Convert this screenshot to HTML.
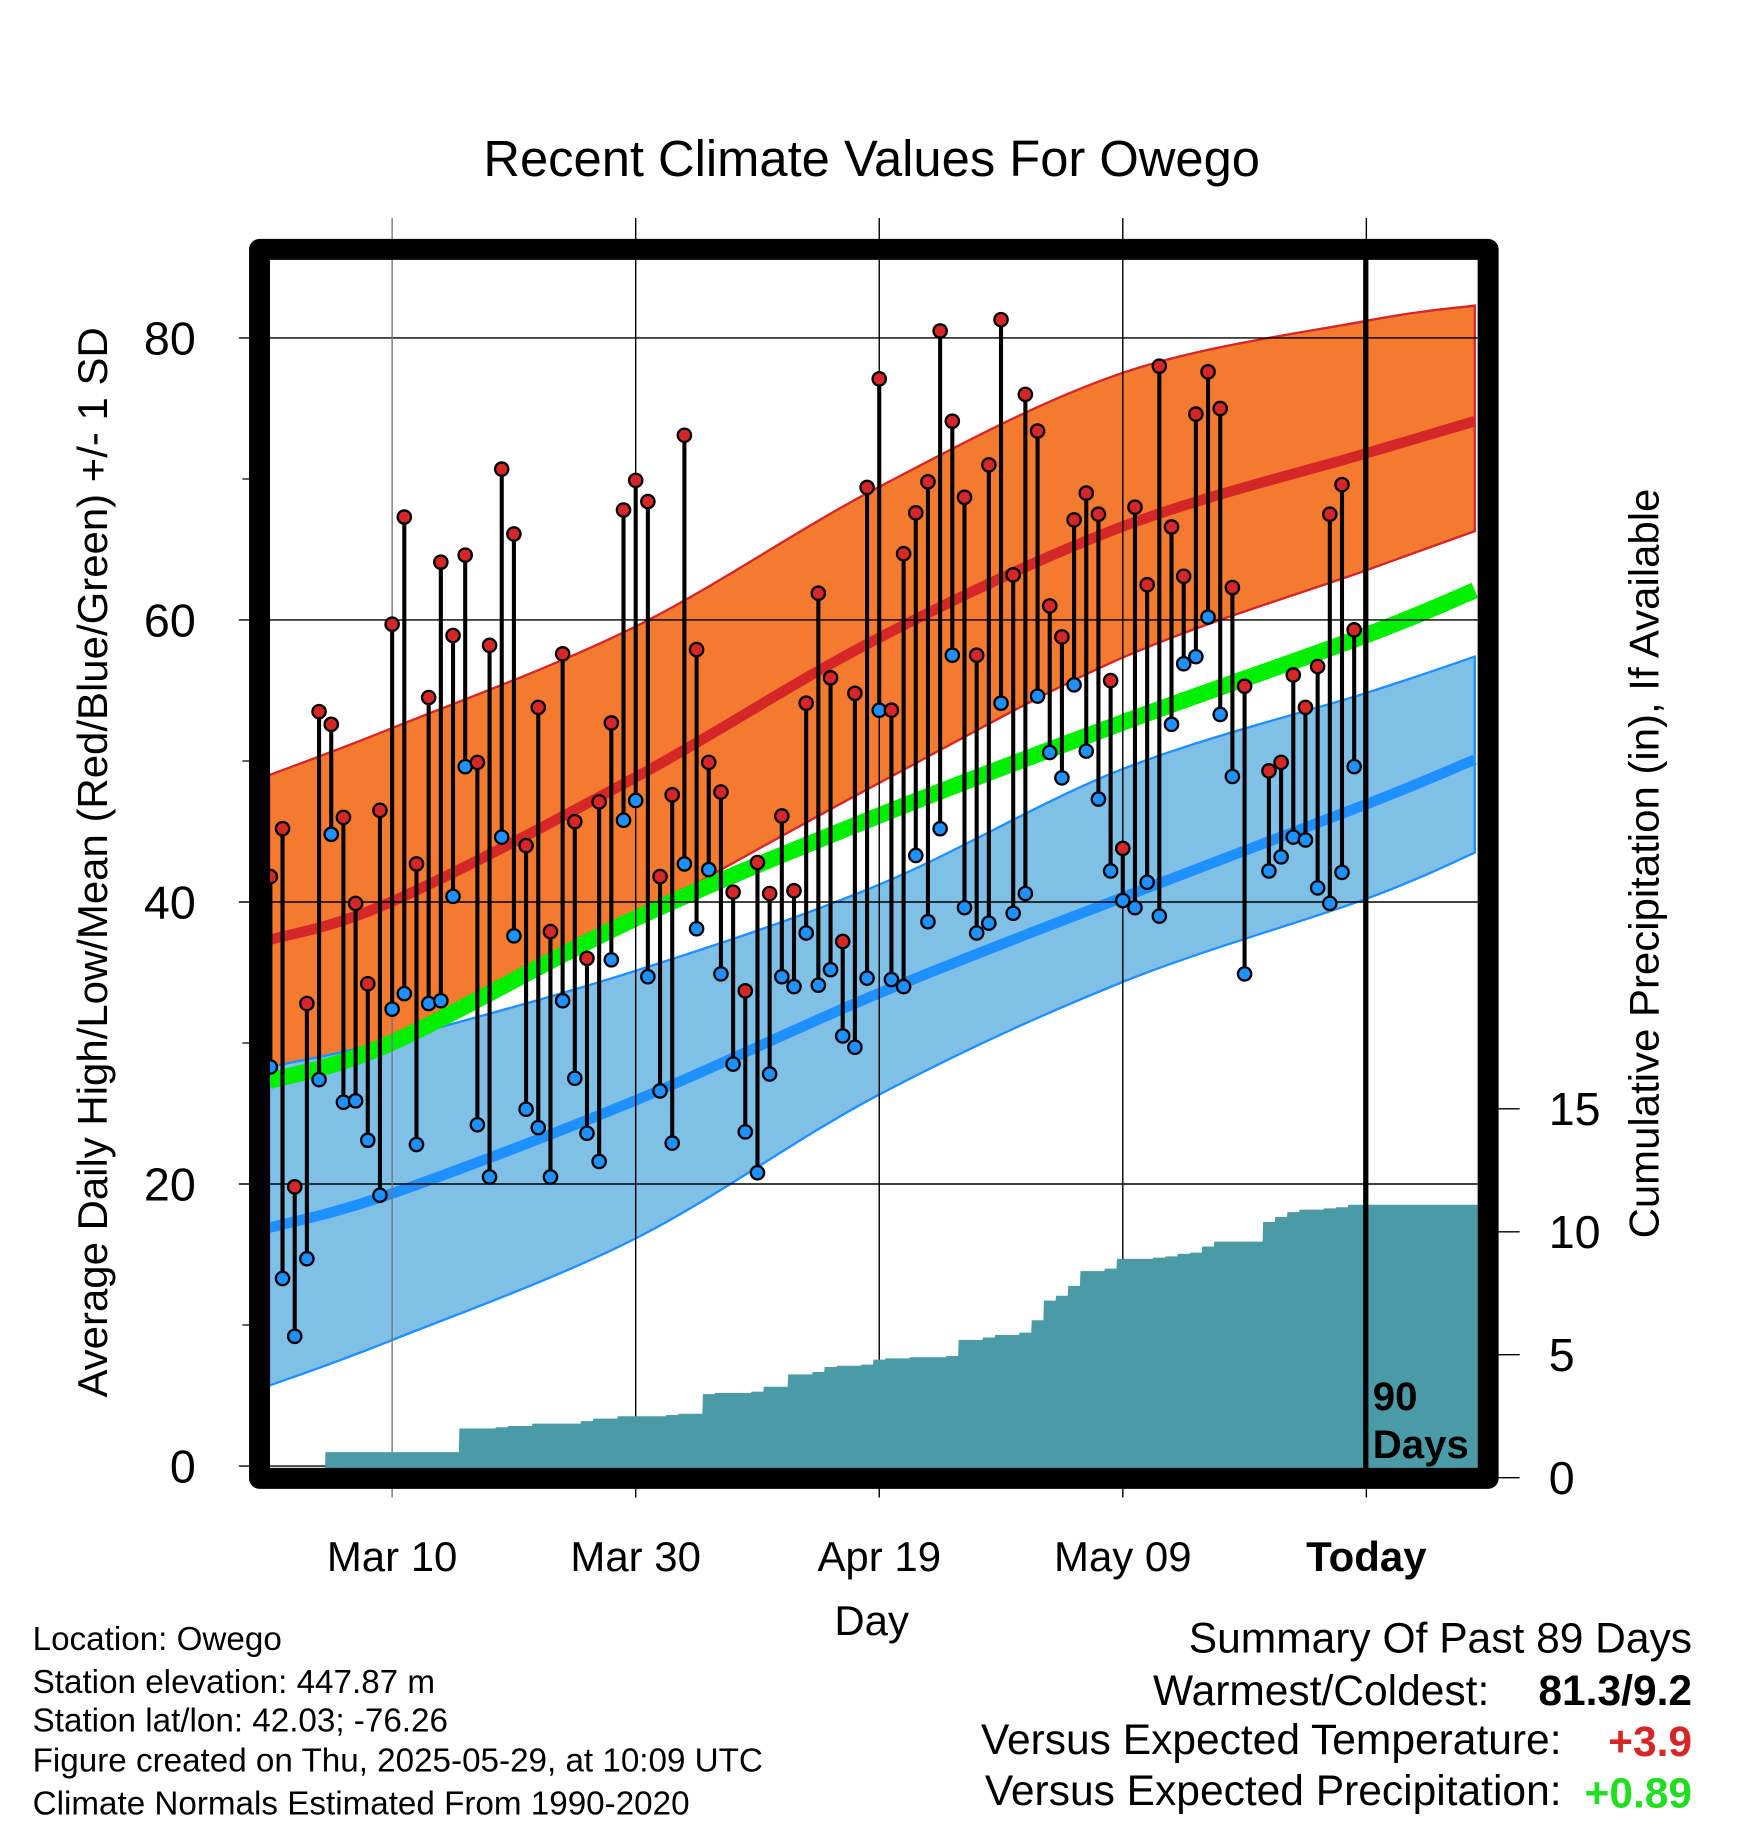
<!DOCTYPE html>
<html><head><meta charset="utf-8"><style>
html,body{margin:0;padding:0;background:#fff}
svg{display:block;font-family:"Liberation Sans",sans-serif}
</style></head><body>
<svg id="chart" width="1748" height="1828" viewBox="0 0 1500 1568.6" xmlns="http://www.w3.org/2000/svg">
<defs><clipPath id="plotclip"><rect x="231" y="223" width="1037" height="1037"/></clipPath></defs>
<text x="748" y="151" font-size="43.5" text-anchor="middle">Recent Climate Values For Owego</text>
<g id="bands" clip-path="url(#plotclip)"></g>
<g id="grid"></g>
<g id="precip" clip-path="url(#plotclip)"></g>
<g id="marks" clip-path="url(#plotclip)"></g>
<rect x="222.7" y="214" width="1054.3" height="1054.6" fill="none" stroke="#000" stroke-width="18" stroke-linejoin="round"/>
<line x1="1172" y1="214" x2="1172" y2="1268" stroke="#000" stroke-width="4.5"/>
<text x="1178" y="1210" font-size="34.5" font-weight="bold">90</text>
<text x="1178" y="1251" font-size="34.5" font-weight="bold">Days</text>
<g id="axes"></g>
<text transform="translate(92,740) rotate(-90)" font-size="36" text-anchor="middle">Average Daily High/Low/Mean (Red/Blue/Green) +/- 1 SD</text>
<text transform="translate(1423,741) rotate(-90)" font-size="36" text-anchor="middle">Cumulative Precipitation (in), If Available</text>
<text x="748" y="1403" font-size="36" text-anchor="middle">Day</text>
<g font-size="28.5">
<text x="28" y="1416">Location: Owego</text>
<text x="28" y="1453">Station elevation: 447.87 m</text>
<text x="28" y="1486">Station lat/lon: 42.03; -76.26</text>
<text x="28" y="1520">Figure created on Thu, 2025-05-29, at 10:09 UTC</text>
<text x="28" y="1557">Climate Normals Estimated From 1990-2020</text>
</g>
<g font-size="36.5" text-anchor="end">
<text x="1452" y="1418">Summary Of Past 89 Days</text>
<text x="1278" y="1463">Warmest/Coldest:</text>
<text x="1452" y="1463" font-weight="bold">81.3/9.2</text>
<text x="1340" y="1505">Versus Expected Temperature:</text>
<text x="1452" y="1507" font-weight="bold" fill="#d62728">+3.9</text>
<text x="1340" y="1549">Versus Expected Precipitation:</text>
<text x="1452" y="1551" font-weight="bold" fill="#22dd22">+0.89</text>
</g>
</svg>
<script>
const highs=[41.8,45.2,19.8,32.8,53.5,52.6,46,39.9,34.2,46.5,59.7,67.3,42.7,54.5,64.1,58.9,64.6,49.9,58.2,70.7,66.1,44,53.8,37.9,57.6,45.7,36,47.1,52.7,67.8,69.9,68.4,41.8,47.6,73.1,57.9,49.9,47.8,40.7,33.7,42.8,40.6,46.1,40.8,54.1,61.9,55.9,37.2,54.8,69.4,77.1,53.6,64.7,67.6,69.8,80.5,74.1,68.7,57.5,71,81.3,63.2,76,73.4,61,58.8,67.1,69,67.5,55.7,43.8,68,62.5,78,66.6,63.1,74.6,77.6,75,62.3,55.3,null,49.3,49.9,56.1,53.8,56.7,67.5,69.6,59.3];
const lows=[28.3,13.3,9.2,14.7,27.4,44.8,25.8,25.9,23.1,19.2,32.4,33.5,22.8,32.8,33,40.4,49.6,24.2,20.5,44.6,37.6,25.3,24,20.5,33,27.5,23.6,21.6,35.9,45.8,47.2,34.7,26.6,22.9,42.7,38.1,42.3,34.9,28.5,23.7,20.8,27.8,34.7,34,37.8,34.1,35.2,30.5,29.7,34.6,53.6,34.5,34,43.3,38.6,45.2,57.5,39.6,37.8,38.5,54.1,39.2,40.6,54.6,50.6,48.8,55.4,50.7,47.3,42.2,40.1,39.6,41.4,39,52.6,56.9,57.4,60.2,53.3,48.9,34.9,null,42.2,43.2,44.6,44.4,41,39.9,42.1,49.6];
const precipCum=[0,0,0,0,0,1.04,1.04,1.04,1.04,1.04,1.04,1.04,1.04,1.04,1.04,1.04,2.0,2.0,2.0,2.05,2.1,2.1,2.2,2.2,2.2,2.2,2.3,2.4,2.4,2.5,2.5,2.5,2.5,2.55,2.6,2.6,3.4,3.45,3.45,3.45,3.5,3.7,3.7,4.2,4.2,4.3,4.5,4.55,4.55,4.6,4.8,4.85,4.85,4.9,4.9,4.9,4.95,5.6,5.6,5.7,5.8,5.8,5.9,6.4,7.2,7.4,7.8,8.4,8.4,8.5,8.9,8.9,8.9,8.95,9.0,9.1,9.15,9.4,9.6,9.6,9.6,9.6,10.4,10.6,10.8,10.9,10.9,10.95,11.0,11.1];
const normDays=[0,10,30,50,70,90,99];
const highMean=[37.3,40.0,48.8,58.7,66.6,71.8,74.1];
const highUpper=[49.0,52.3,59.5,69.4,77.5,81.2,82.3];
const highLower=[26.5,29.5,38.9,48.4,57.3,63.5,66.3];
const lowMean=[16.9,19.3,25.9,33.5,40.3,46.9,50.1];
const lowUpper=[28.3,30.2,35.1,41.2,49.4,54.8,57.4];
const lowLower=[5.7,8.9,16.1,26.3,34.3,40.2,43.5];
const dailyMean=[27.3,30.0,38.8,46.1,52.7,58.9,62.1];
const tempTicks=[0,20,40,60,80];
const tempMinor=[10,30,50,70];
const precipTicks=[0,5,10,15];
const dateLabels=["Mar 10","Mar 30","Apr 19","May 09","Today"];
const dateDays=[10,30,50,70,90];

const NS="http://www.w3.org/2000/svg";
const xOf=d=>232+10.45*d;
const yT=v=>1258-12.1*v;
const yP=p=>1268-21.1*p;
function mk(tag,attrs,parent){const e=document.createElementNS(NS,tag);for(const k in attrs)e.setAttribute(k,attrs[k]);parent.appendChild(e);return e;}
function pts(vals){return normDays.map((d,i)=>[xOf(d)-1,yT(vals[i])]);}
function smooth(p){let s="M"+p[0][0]+","+p[0][1];for(let i=0;i<p.length-1;i++){const p0=p[i-1]||p[i],p1=p[i],p2=p[i+1],p3=p[i+2]||p2;const c1=[p1[0]+(p2[0]-p0[0])/6,p1[1]+(p2[1]-p0[1])/6],c2=[p2[0]-(p3[0]-p1[0])/6,p2[1]-(p3[1]-p1[1])/6];s+=" C"+c1+" "+c2+" "+p2;}return s;}
function band(up,lo){const a=pts(up),b=pts(lo).reverse();const rev=smooth(b).replace(/^M/,"L");return smooth(a)+" "+rev+" Z";}
const bands=document.getElementById('bands');
let e;
e=mk('path',{d:band(highUpper,highLower),fill:'#f47a30',stroke:'#d62728','stroke-width':2},bands);


e=mk('path',{d:band(lowUpper,lowLower),fill:'#80bfe6',stroke:'#1e90ff','stroke-width':2},bands);


e=mk('path',{d:smooth(pts(dailyMean)),fill:'none',stroke:'#00ee00','stroke-width':14},bands);


e=mk('path',{d:smooth(pts(highMean)),fill:'none',stroke:'#d62728','stroke-width':9},bands);


e=mk('path',{d:smooth(pts(lowMean)),fill:'none',stroke:'#1e90ff','stroke-width':9},bands);



const grid=document.getElementById('grid');
const axes=document.getElementById('axes');
tempTicks.forEach(v=>{
 e=mk('line',{x1:205,x2:1268,y1:yT(v),y2:yT(v),stroke:'#000','stroke-width':1.2},grid);
 
 
 e=mk('text',{x:168,y:yT(v)+14,'font-size':40,'text-anchor':'end'},axes);e.textContent=v;
 
 
});
tempMinor.forEach(v=>{
 e=mk('line',{x1:208,x2:222,y1:yT(v),y2:yT(v),stroke:'#000','stroke-width':1},axes);
 
 
});
dateDays.forEach((d,i)=>{
 const x=xOf(d);
 e=mk('line',{x1:x,x2:x,y1:187,y2:1285,stroke:i==0?'#777':'#000','stroke-width':1.2},grid);
 
 
 e=mk('text',{x:x,y:1348,'font-size':36,'text-anchor':'middle','font-weight':i==4?'bold':'normal'},axes);e.textContent=dateLabels[i];
 
 
});
precipTicks.forEach(p=>{
 e=mk('line',{x1:1286,x2:1304,y1:yP(p),y2:yP(p),stroke:'#000','stroke-width':1.2},axes);
 
 
 e=mk('text',{x:1329,y:yP(p)+14,'font-size':40},axes);e.textContent=p;
 
 
});

const pg=document.getElementById('precip');
let d="M"+xOf(0)+","+yP(0);
precipCum.forEach((p,i)=>{d+=" L"+(xOf(i)-5)+","+yP(p)+" L"+(xOf(i)+5)+","+yP(p);});
d+=" L1268,"+yP(precipCum[precipCum.length-1])+" L1268,1262 L231,1262 Z";
e=mk('path',{d:d,fill:'#4a9ba6'},pg);



const mg=document.getElementById('marks');
highs.forEach((h,i)=>{
 const l=lows[i]; if(h==null||l==null)return;
 const x=xOf(i);
 e=mk('line',{x1:x,x2:x,y1:yT(h),y2:yT(l),stroke:'#000','stroke-width':3.5},mg);
 
 
});
highs.forEach((h,i)=>{
 const l=lows[i]; if(h==null||l==null)return;
 const x=xOf(i);
 e=mk('circle',{cx:x,cy:yT(h),r:5.7,fill:'#d62728',stroke:'#000','stroke-width':2},mg);
 
 
 e=mk('circle',{cx:x,cy:yT(l),r:5.7,fill:'#1e90ff',stroke:'#000','stroke-width':2},mg);
 
 
});
</script>
</body></html>
